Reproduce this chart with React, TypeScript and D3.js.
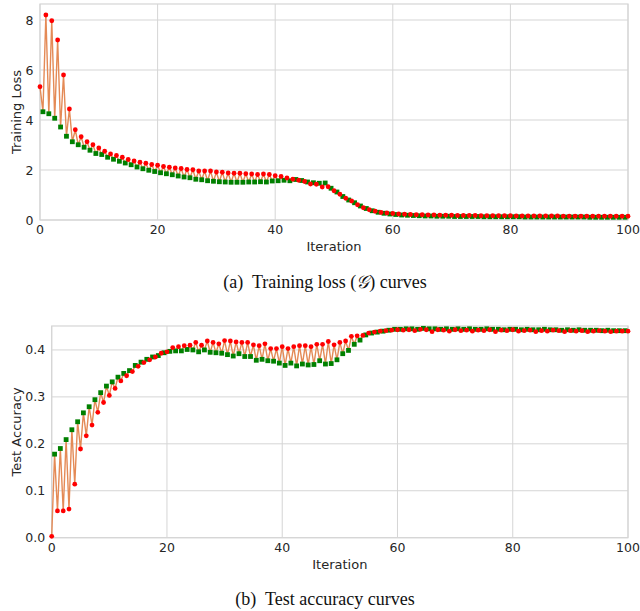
import React from "react";
import * as d3 from "d3";

const iterTicks = [0, 20, 40, 60, 80, 100];
const lossTicks = [0, 2, 4, 6, 8];
const accTicks = [0, 0.1, 0.2, 0.3, 0.4];

// Training loss: red markers at integer iterations, green at half iterations
const lossRed = [
  5.33, 8.2, 7.97, 7.2, 5.8, 4.44, 3.61, 3.33, 3.13, 3.01,
  2.88, 2.75, 2.64, 2.58, 2.51, 2.42, 2.36, 2.31, 2.27, 2.22,
  2.19, 2.14, 2.11, 2.08, 2.06, 2.02, 2.01, 1.96, 1.96, 1.96,
  1.92, 1.91, 1.88, 1.87, 1.87, 1.85, 1.84, 1.82, 1.84, 1.82,
  1.77, 1.74, 1.68, 1.63, 1.59, 1.54, 1.44, 1.43, 1.32, 1.33,
  1.17, 1.03, 0.87, 0.76, 0.61, 0.49, 0.41, 0.35, 0.3, 0.28,
  0.26, 0.24, 0.23, 0.22, 0.21, 0.21, 0.2, 0.2, 0.19, 0.19,
  0.19, 0.18, 0.18, 0.18, 0.18, 0.17, 0.17, 0.17, 0.17, 0.17,
  0.17, 0.16, 0.16, 0.16, 0.16, 0.16, 0.16, 0.16, 0.16, 0.15,
  0.15, 0.15, 0.15, 0.15, 0.15, 0.15, 0.15, 0.15, 0.15, 0.15,
  0.15,
];
const lossGreen = [
  4.33, 4.25, 4.07, 3.72, 3.35, 3.13, 3.01, 2.91, 2.79, 2.66,
  2.62, 2.51, 2.43, 2.35, 2.28, 2.21, 2.12, 2.05, 1.99, 1.94,
  1.89, 1.85, 1.81, 1.76, 1.72, 1.69, 1.63, 1.61, 1.57, 1.55,
  1.53, 1.52, 1.51, 1.51, 1.51, 1.52, 1.52, 1.53, 1.52, 1.56,
  1.57, 1.59, 1.57, 1.62, 1.58, 1.52, 1.49, 1.47, 1.48, 1.27,
  1.12, 0.94, 0.8, 0.69, 0.56, 0.46, 0.37, 0.31, 0.27, 0.24,
  0.22, 0.2, 0.19, 0.18, 0.17, 0.16, 0.16, 0.15, 0.15, 0.15,
  0.14, 0.14, 0.14, 0.14, 0.14, 0.13, 0.13, 0.13, 0.13, 0.13,
  0.13, 0.13, 0.12, 0.12, 0.12, 0.12, 0.12, 0.12, 0.12, 0.12,
  0.12, 0.12, 0.12, 0.11, 0.11, 0.11, 0.11, 0.11, 0.11, 0.11,
];

// Test accuracy
const accRed = [
  0.003, 0.057, 0.057, 0.061, 0.114, 0.189, 0.217, 0.24, 0.267, 0.288,
  0.303, 0.318, 0.334, 0.345, 0.354, 0.365, 0.373, 0.379, 0.385, 0.393,
  0.396, 0.405, 0.407, 0.409, 0.41, 0.416, 0.41, 0.419, 0.416, 0.413,
  0.42, 0.419, 0.417, 0.416, 0.416, 0.411, 0.409, 0.413, 0.403, 0.403,
  0.407, 0.403, 0.407, 0.409, 0.409, 0.407, 0.412, 0.412, 0.418, 0.411,
  0.416, 0.419, 0.429, 0.43, 0.431, 0.436, 0.438, 0.44, 0.441, 0.442,
  0.443, 0.442, 0.443, 0.441, 0.444, 0.443, 0.439, 0.443, 0.442, 0.44,
  0.443, 0.441, 0.442, 0.44, 0.442, 0.441, 0.443, 0.439, 0.442, 0.441,
  0.443, 0.44, 0.441, 0.442, 0.439, 0.441, 0.44, 0.442, 0.441, 0.439,
  0.441, 0.44, 0.441, 0.439, 0.44, 0.441, 0.44, 0.439, 0.44, 0.44,
  0.44,
];
const accGreen = [
  0.178, 0.19, 0.209, 0.23, 0.247, 0.266, 0.279, 0.294, 0.309, 0.323,
  0.332, 0.342, 0.35, 0.356, 0.367, 0.374, 0.38, 0.385, 0.388, 0.394,
  0.397, 0.398, 0.398, 0.401, 0.4, 0.396, 0.4, 0.395, 0.394, 0.393,
  0.39, 0.387, 0.392, 0.386, 0.386, 0.378, 0.38, 0.377, 0.376, 0.372,
  0.367, 0.372, 0.366, 0.37, 0.368, 0.369, 0.377, 0.37, 0.371, 0.379,
  0.392, 0.399, 0.412, 0.421, 0.432, 0.436, 0.438, 0.44, 0.442, 0.444,
  0.444, 0.445, 0.445, 0.444, 0.446, 0.445, 0.445, 0.444, 0.445, 0.444,
  0.445, 0.444, 0.445, 0.444, 0.444, 0.445, 0.444, 0.444, 0.443, 0.444,
  0.444, 0.443, 0.444, 0.443, 0.443, 0.444, 0.443, 0.443, 0.442, 0.443,
  0.442, 0.443, 0.442, 0.442, 0.442, 0.441, 0.442, 0.441, 0.441, 0.441,
];

const FONT = "'DejaVu Sans', sans-serif";
const TEXT = "#262626";
const GRID = "#d5d5d5";

type PanelProps = {
  red: number[];
  green: number[];
  yMax: number;
  yTicks: number[];
  fmt: (v: number) => string;
  left: number;
  right: number;
  top: number;
  bottom: number;
  ylabel: string;
  caption: React.ReactNode;
  captionY: number;
};

function Panel(p: PanelProps) {
  const x = d3.scaleLinear().domain([0, 100]).range([p.left, p.right]);
  const y = d3.scaleLinear().domain([0, p.yMax]).range([p.bottom, p.top]);
  const seq: [number, number][] = [];
  p.red.forEach((v, i) => {
    seq.push([i, v]);
    if (i < p.green.length) seq.push([i + 0.5, p.green[i]]);
  });
  const line = d3
    .line<[number, number]>()
    .x((d) => x(d[0]))
    .y((d) => y(d[1]));
  const sq = 4.8;
  return (
    <g>
      {iterTicks.map((t) => (
        <line key={"vx" + t} x1={x(t)} x2={x(t)} y1={p.top} y2={p.bottom} stroke={GRID} strokeWidth={1} />
      ))}
      {p.yTicks.map((t) => (
        <line key={"hy" + t} x1={p.left} x2={p.right} y1={y(t)} y2={y(t)} stroke={GRID} strokeWidth={1} />
      ))}
      <rect x={p.left} y={p.top} width={p.right - p.left} height={p.bottom - p.top} fill="none" stroke={GRID} strokeWidth={1.2} />
      <path d={line(seq) || ""} fill="none" stroke="#e48a56" strokeWidth={1.4} />
      {p.green.map((v, i) => (
        <rect key={"g" + i} x={x(i + 0.5) - sq / 2} y={y(v) - sq / 2} width={sq} height={sq} fill="#008000" />
      ))}
      {p.red.map((v, i) => (
        <circle key={"r" + i} cx={x(i)} cy={y(v)} r={2.4} fill="#ff0000" />
      ))}
      {iterTicks.map((t) => (
        <text key={"xl" + t} x={x(t)} y={p.bottom + 14} textAnchor="middle" fontFamily={FONT} fontSize={12.5} fill={TEXT}>
          {t}
        </text>
      ))}
      {p.yTicks.map((t) => (
        <text key={"yl" + t} x={p.left - 6.5} y={y(t) + 4.5} textAnchor="end" fontFamily={FONT} fontSize={12.5} fill={TEXT}>
          {p.fmt(t)}
        </text>
      ))}
      <text x={(p.left + p.right) / 2} y={p.bottom + 31} textAnchor="middle" fontFamily={FONT} fontSize={13} fill={TEXT}>
        Iteration
      </text>
      <text
        transform={`translate(${21},${(p.top + p.bottom) / 2}) rotate(-90)`}
        textAnchor="middle"
        fontFamily={FONT}
        fontSize={13}
        fill={TEXT}
      >
        {p.ylabel}
      </text>
      <text
        x={325}
        y={p.captionY}
        textAnchor="middle"
        fontFamily="'Liberation Serif', 'DejaVu Serif', serif"
        fontSize={18}
        fill="#111"
        style={{ whiteSpace: "pre" }}
      >
        {p.caption}
      </text>
    </g>
  );
}

export default function App() {
  return (
    <svg
      width={640}
      height={611}
      viewBox="0 0 640 611"
      style={{ position: "absolute", left: 0, top: 0, background: "#fff" }}
    >
      <rect width={640} height={611} fill="#fff" />
      <Panel
        red={lossRed}
        green={lossGreen}
        yMax={8.64}
        yTicks={lossTicks}
        fmt={(v) => String(v)}
        left={40}
        right={628}
        top={4}
        bottom={220}
        ylabel="Training Loss"
        captionY={288}
        caption={
          <>
            <tspan>(a)  Training loss (</tspan>
            <tspan fontStyle="italic">𝒢</tspan>
            <tspan>) curves</tspan>
          </>
        }
      />
      <Panel
        red={accRed}
        green={accGreen}
        yMax={0.451}
        yTicks={accTicks}
        fmt={(v) => v.toFixed(1)}
        left={51.7}
        right={628}
        top={326}
        bottom={537.7}
        ylabel="Test Accuracy"
        captionY={605}
        caption={<tspan>(b)  Test accuracy curves</tspan>}
      />
    </svg>
  );
}
